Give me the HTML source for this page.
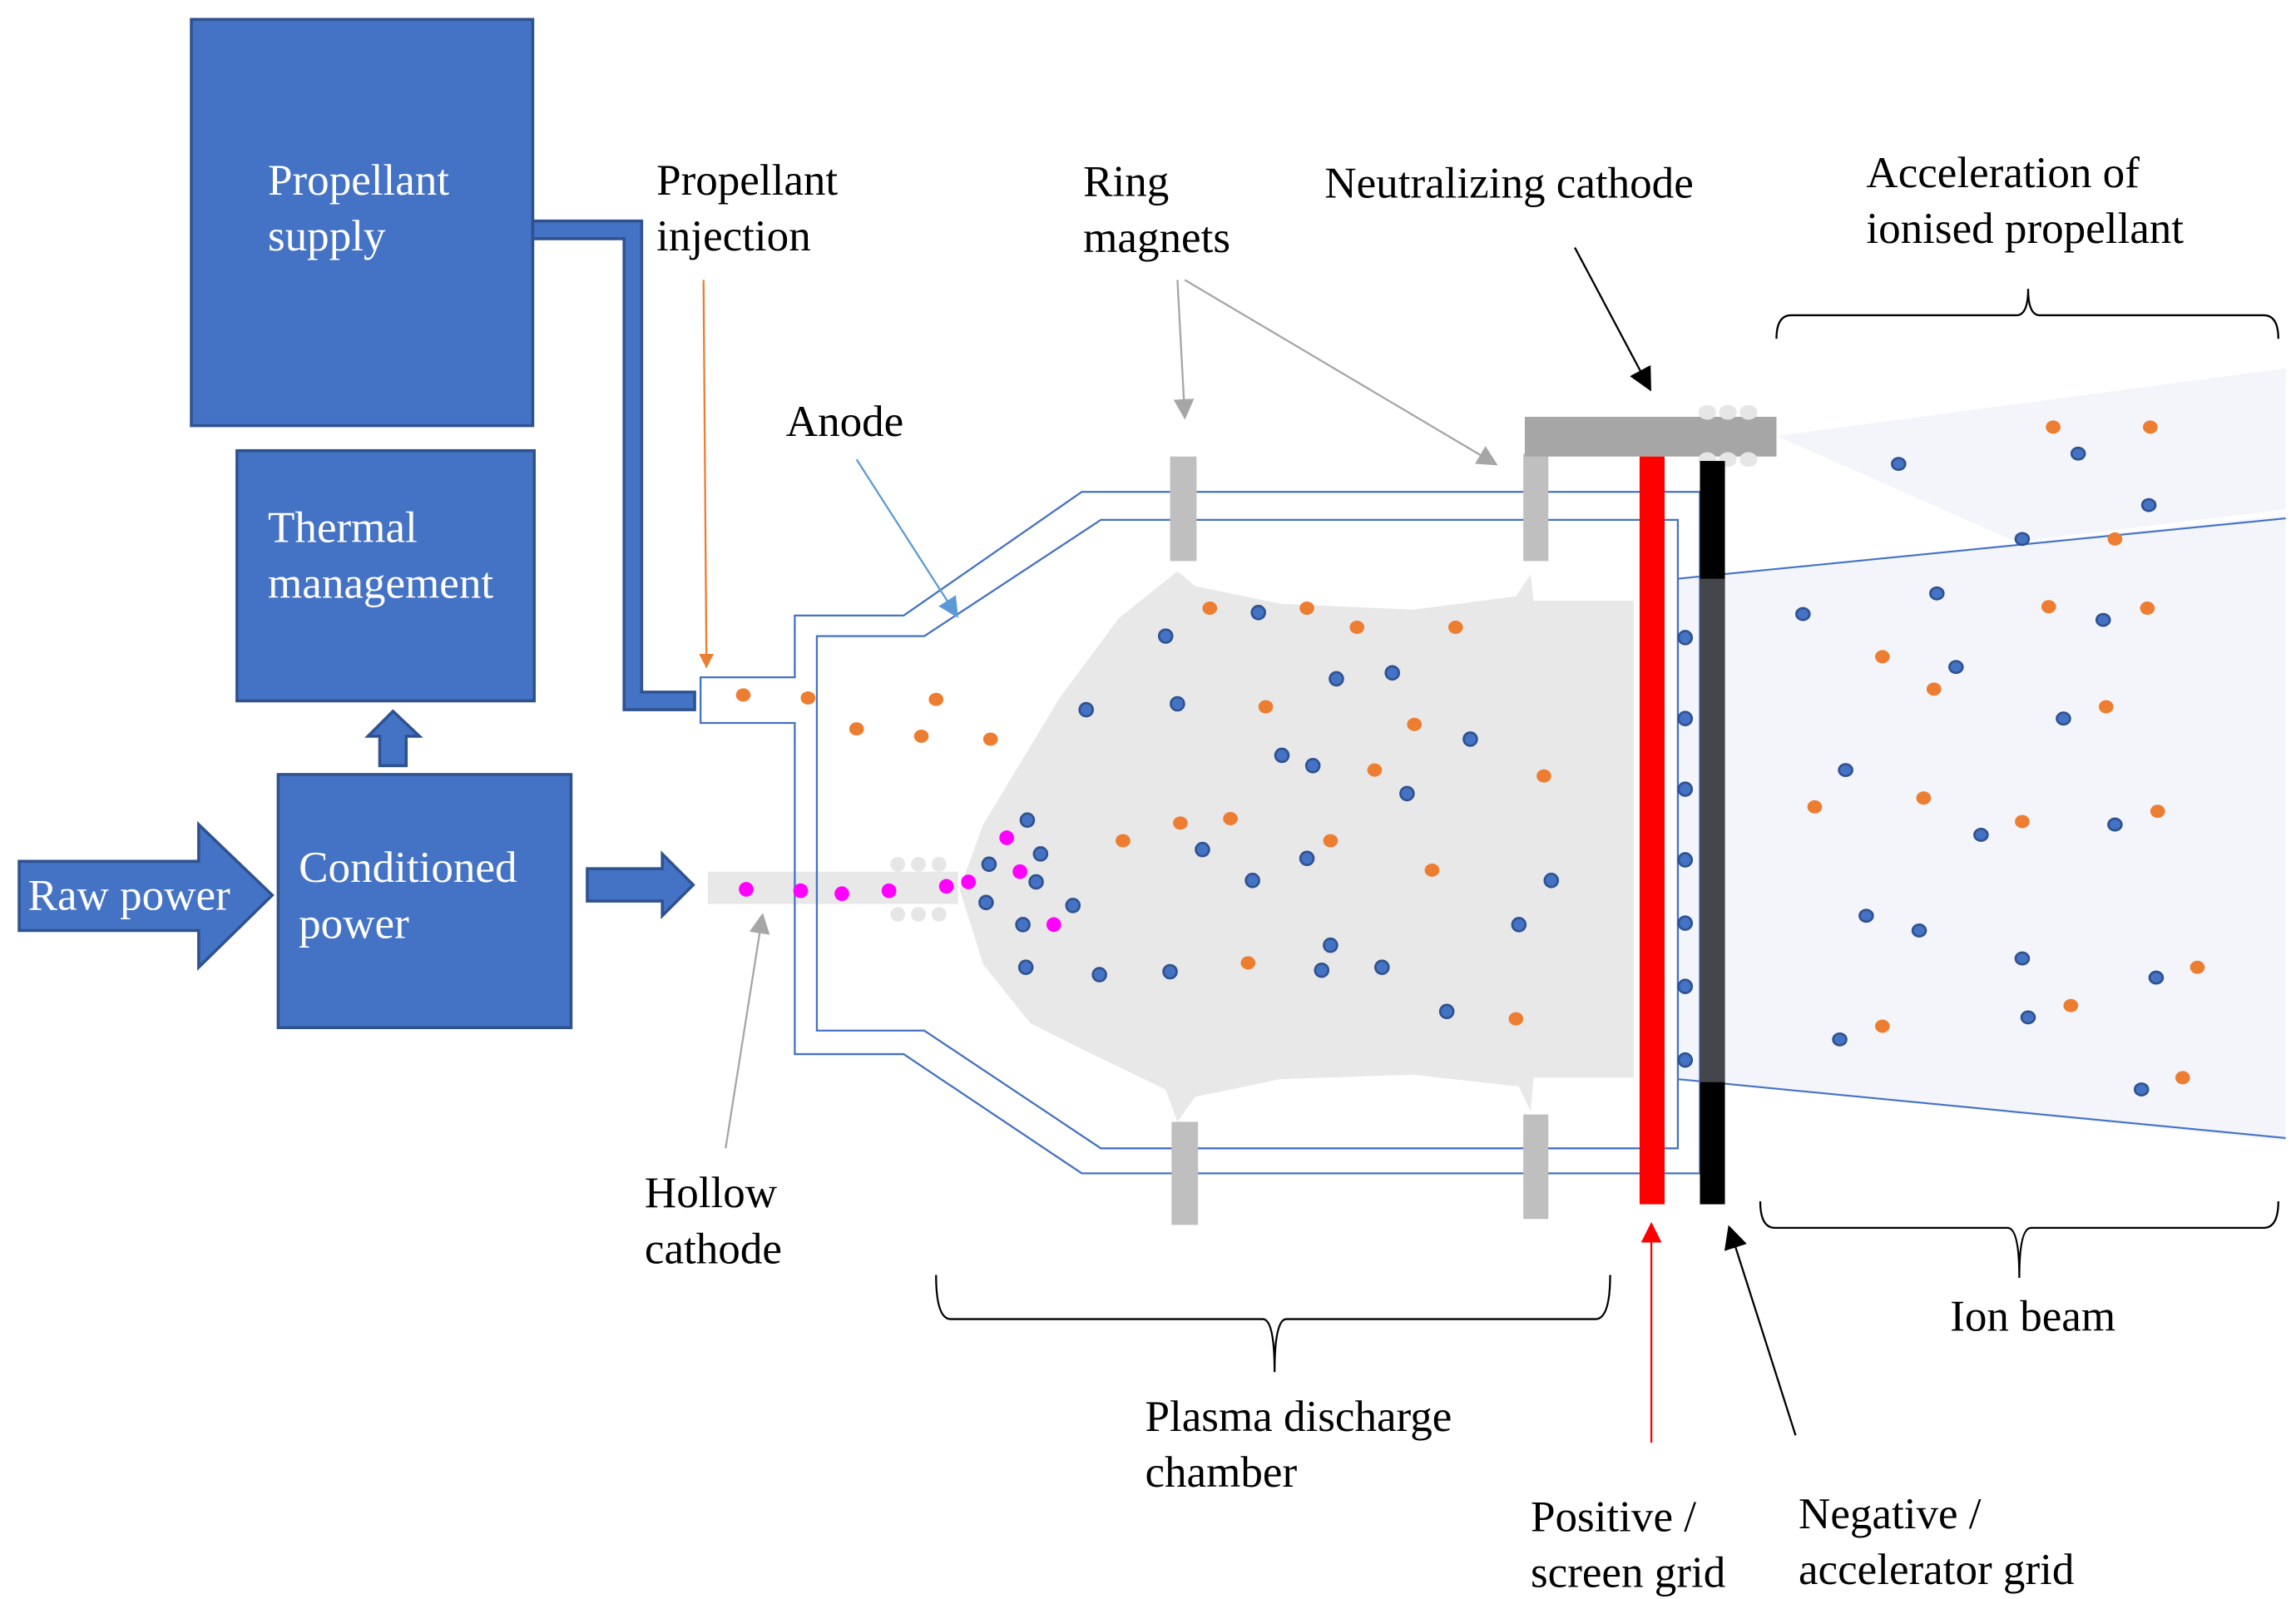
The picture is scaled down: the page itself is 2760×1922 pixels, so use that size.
<!DOCTYPE html>
<html><head><meta charset="utf-8"><style>
html,body{margin:0;padding:0;background:#fff}
svg{display:block}
text{font-family:"Liberation Serif",serif;font-size:30px}
.w{fill:#fff}
</style></head><body>
<svg width="2760" height="1922" viewBox="0 0 1560 1086" xmlns="http://www.w3.org/2000/svg">
<defs>
<marker id="ao" markerWidth="10" markerHeight="10" refX="8" refY="5" orient="auto" markerUnits="userSpaceOnUse"><path d="M0,0 L10,5 L0,10z" fill="#ED7D31"/></marker>
<marker id="ab" markerWidth="14" markerHeight="14" refX="12" refY="7" orient="auto" markerUnits="userSpaceOnUse"><path d="M0,0 L14,7 L0,14z" fill="#5B9BD5"/></marker>
<marker id="ag" markerWidth="14" markerHeight="14" refX="12" refY="7" orient="auto" markerUnits="userSpaceOnUse"><path d="M0,0 L14,7 L0,14z" fill="#A6A6A6"/></marker>
<marker id="ak" markerWidth="16" markerHeight="16" refX="14" refY="8" orient="auto" markerUnits="userSpaceOnUse"><path d="M0,0 L16,8 L0,16z" fill="#000"/></marker>
<marker id="ar" markerWidth="14" markerHeight="14" refX="12" refY="7" orient="auto" markerUnits="userSpaceOnUse"><path d="M0,0 L14,7 L0,14z" fill="#f00"/></marker>
</defs>

<!-- blocks -->
<g fill="#4472C4" stroke="#2F528F" stroke-width="2">
<rect x="130" y="13" width="232" height="276"/>
<rect x="161" y="306" width="202" height="170"/>
<rect x="189" y="526" width="199" height="172"/>
<path d="M13,585 L135,585 L135,560 L185,608 L135,657 L135,632 L13,632z"/>
<path d="M258,520 L258,500 L250,500 L267,483 L285,500 L276,500 L276,520z"/>
<path d="M399,590 L450,590 L450,580 L471,601 L450,622 L450,612 L399,612z"/>
<path d="M362,150 L436,150 L436,470 L472,470 L472,482 L424,482 L424,162 L362,162z"/>
</g>
<text class="w" x="182" y="132">Propellant</text>
<text class="w" x="182" y="170">supply</text>
<text class="w" x="182" y="368">Thermal</text>
<text class="w" x="182" y="406">management</text>
<text class="w" x="203" y="599">Conditioned</text>
<text class="w" x="203" y="637">power</text>
<text class="w" x="19" y="618">Raw power</text>

<!-- beam -->
<path d="M1207,296 L1553,250 L1553,346 L1370,368z" fill="#F3F5FB"/>
<path d="M1140,393 L1553,350 L1553,775 L1140,733z" fill="#F3F5FB"/>
<path d="M1140,393 L1553,352 M1140,733 L1553,773" stroke="#4472C4" stroke-width="1.2" fill="none"/>

<!-- plasma -->
<path d="M800,388 L812,398 L870,410 L960,414 L1030,405 L1040,390 L1042,408 L1110,408 L1110,732 L1042,732 L1040,755 L1032,738 L960,730 L870,733 L812,745 L800,762 L792,740 L740,715 L700,695 L668,655 L652,604 L668,560 L720,474 L760,420z" fill="#E8E8E8"/>
<rect x="481" y="592" width="170" height="22" fill="#E8E8E8"/>

<!-- chamber outline -->
<g fill="none" stroke="#4472C4" stroke-width="1.3">
<path d="M540,418 L540,460 L476,460 L476,491 L540,491 L540,716 L614,716 L735,797 L1155,797 L1155,334 L735,334 L614,418z"/>
<path d="M555,432 L555,700 L628,700 L748,780 L1140,780 L1140,353 L748,353 L628,432z"/>
</g>

<!-- magnets -->
<g fill="#BFBFBF">
<rect x="795" y="310" width="18" height="71"/>
<rect x="1035" y="308" width="17" height="73"/>
<rect x="796" y="762" width="18" height="70"/>
<rect x="1035" y="757" width="17" height="71"/>
</g>
<rect x="1036" y="283" width="171" height="27" fill="#A6A6A6"/>
<g fill="#E7E6E6">
<ellipse cx="1160" cy="280" rx="6" ry="5"/><ellipse cx="1174" cy="280" rx="6" ry="5"/><ellipse cx="1188" cy="280" rx="6" ry="5"/>
<ellipse cx="1160" cy="312" rx="6" ry="5"/><ellipse cx="1174" cy="312" rx="6" ry="5"/><ellipse cx="1188" cy="312" rx="6" ry="5"/>
<circle cx="610" cy="587" r="5"/><circle cx="624" cy="587" r="5"/><circle cx="638" cy="587" r="5"/>
<circle cx="610" cy="621" r="5"/><circle cx="624" cy="621" r="5"/><circle cx="638" cy="621" r="5"/>
</g>

<!-- grids -->
<rect x="1114" y="310" width="17" height="508" fill="#f00"/>
<rect x="1155" y="313" width="17" height="505" fill="#000"/>
<rect x="1155" y="393" width="17" height="342" fill="#45464B"/>

<!-- dots -->
<g fill="#ED7D31">
<ellipse cx="505" cy="472" rx="5" ry="4.5"/><ellipse cx="549" cy="474" rx="5" ry="4.5"/><ellipse cx="582" cy="495" rx="5" ry="4.5"/><ellipse cx="626" cy="500" rx="5" ry="4.5"/><ellipse cx="636" cy="475" rx="5" ry="4.5"/><ellipse cx="673" cy="502" rx="5" ry="4.5"/>
<ellipse cx="822" cy="413" rx="5" ry="4.5"/><ellipse cx="888" cy="413" rx="5" ry="4.5"/><ellipse cx="922" cy="426" rx="5" ry="4.5"/><ellipse cx="989" cy="426" rx="5" ry="4.5"/><ellipse cx="860" cy="480" rx="5" ry="4.5"/><ellipse cx="961" cy="492" rx="5" ry="4.5"/><ellipse cx="934" cy="523" rx="5" ry="4.5"/><ellipse cx="1049" cy="527" rx="5" ry="4.5"/><ellipse cx="763" cy="571" rx="5" ry="4.5"/><ellipse cx="802" cy="559" rx="5" ry="4.5"/><ellipse cx="836" cy="556" rx="5" ry="4.5"/><ellipse cx="904" cy="571" rx="5" ry="4.5"/><ellipse cx="973" cy="591" rx="5" ry="4.5"/><ellipse cx="848" cy="654" rx="5" ry="4.5"/><ellipse cx="1030" cy="692" rx="5" ry="4.5"/>
<ellipse cx="1395" cy="290" rx="5" ry="4.5"/><ellipse cx="1461" cy="290" rx="5" ry="4.5"/><ellipse cx="1437" cy="366" rx="5" ry="4.5"/><ellipse cx="1279" cy="446" rx="5" ry="4.5"/><ellipse cx="1392" cy="412" rx="5" ry="4.5"/><ellipse cx="1459" cy="413" rx="5" ry="4.5"/><ellipse cx="1314" cy="468" rx="5" ry="4.5"/><ellipse cx="1431" cy="480" rx="5" ry="4.5"/><ellipse cx="1233" cy="548" rx="5" ry="4.5"/><ellipse cx="1307" cy="542" rx="5" ry="4.5"/><ellipse cx="1374" cy="558" rx="5" ry="4.5"/><ellipse cx="1466" cy="551" rx="5" ry="4.5"/><ellipse cx="1493" cy="657" rx="5" ry="4.5"/><ellipse cx="1407" cy="683" rx="5" ry="4.5"/><ellipse cx="1279" cy="697" rx="5" ry="4.5"/><ellipse cx="1483" cy="732" rx="5" ry="4.5"/>
</g>
<g fill="#4472C4" stroke="#2F528F" stroke-width="1.5">
<ellipse cx="792" cy="432" rx="4.5" ry="4.5"/><ellipse cx="855" cy="416" rx="4.5" ry="4.5"/><ellipse cx="908" cy="461" rx="4.5" ry="4.5"/><ellipse cx="946" cy="457" rx="4.5" ry="4.5"/><ellipse cx="738" cy="482" rx="4.5" ry="4.5"/><ellipse cx="800" cy="478" rx="4.5" ry="4.5"/><ellipse cx="871" cy="513" rx="4.5" ry="4.5"/><ellipse cx="892" cy="520" rx="4.5" ry="4.5"/><ellipse cx="999" cy="502" rx="4.5" ry="4.5"/><ellipse cx="956" cy="539" rx="4.5" ry="4.5"/><ellipse cx="698" cy="557" rx="4.5" ry="4.5"/><ellipse cx="707" cy="580" rx="4.5" ry="4.5"/><ellipse cx="672" cy="587" rx="4.5" ry="4.5"/><ellipse cx="704" cy="599" rx="4.5" ry="4.5"/><ellipse cx="670" cy="613" rx="4.5" ry="4.5"/><ellipse cx="729" cy="615" rx="4.5" ry="4.5"/><ellipse cx="695" cy="628" rx="4.5" ry="4.5"/><ellipse cx="817" cy="577" rx="4.5" ry="4.5"/><ellipse cx="851" cy="598" rx="4.5" ry="4.5"/><ellipse cx="888" cy="583" rx="4.5" ry="4.5"/><ellipse cx="1054" cy="598" rx="4.5" ry="4.5"/><ellipse cx="904" cy="642" rx="4.5" ry="4.5"/><ellipse cx="1032" cy="628" rx="4.5" ry="4.5"/><ellipse cx="697" cy="657" rx="4.5" ry="4.5"/><ellipse cx="747" cy="662" rx="4.5" ry="4.5"/><ellipse cx="795" cy="660" rx="4.5" ry="4.5"/><ellipse cx="898" cy="659" rx="4.5" ry="4.5"/><ellipse cx="939" cy="657" rx="4.5" ry="4.5"/><ellipse cx="983" cy="687" rx="4.5" ry="4.5"/>
<ellipse cx="1145" cy="433" rx="4.5" ry="4.5"/><ellipse cx="1145" cy="488" rx="4.5" ry="4.5"/><ellipse cx="1145" cy="536" rx="4.5" ry="4.5"/><ellipse cx="1145" cy="584" rx="4.5" ry="4.5"/><ellipse cx="1145" cy="627" rx="4.5" ry="4.5"/><ellipse cx="1145" cy="670" rx="4.5" ry="4.5"/><ellipse cx="1145" cy="720" rx="4.5" ry="4.5"/>
<ellipse cx="1290" cy="315" rx="4.5" ry="4"/><ellipse cx="1412" cy="308" rx="4.5" ry="4"/><ellipse cx="1460" cy="343" rx="4.5" ry="4"/><ellipse cx="1374" cy="366" rx="4.5" ry="4"/><ellipse cx="1316" cy="403" rx="4.5" ry="4"/><ellipse cx="1225" cy="417" rx="4.5" ry="4"/><ellipse cx="1429" cy="421" rx="4.5" ry="4"/><ellipse cx="1329" cy="453" rx="4.5" ry="4"/><ellipse cx="1402" cy="488" rx="4.5" ry="4"/><ellipse cx="1254" cy="523" rx="4.5" ry="4"/><ellipse cx="1346" cy="567" rx="4.5" ry="4"/><ellipse cx="1437" cy="560" rx="4.5" ry="4"/><ellipse cx="1268" cy="622" rx="4.5" ry="4"/><ellipse cx="1304" cy="632" rx="4.5" ry="4"/><ellipse cx="1374" cy="651" rx="4.5" ry="4"/><ellipse cx="1465" cy="664" rx="4.5" ry="4"/><ellipse cx="1378" cy="691" rx="4.5" ry="4"/><ellipse cx="1250" cy="706" rx="4.5" ry="4"/><ellipse cx="1455" cy="740" rx="4.5" ry="4"/>
</g>
<g fill="#FF00FF">
<circle cx="507" cy="604" r="5"/><circle cx="544" cy="605" r="5"/><circle cx="572" cy="607" r="5"/><circle cx="604" cy="605" r="5"/><circle cx="643" cy="602" r="5"/><circle cx="658" cy="599" r="5"/><circle cx="684" cy="569" r="5"/><circle cx="693" cy="592" r="5"/><circle cx="716" cy="628" r="5"/>
</g>

<!-- arrows -->
<line x1="478" y1="190" x2="480" y2="452" stroke="#ED7D31" stroke-width="1.3" marker-end="url(#ao)"/>
<line x1="582" y1="312" x2="650" y2="418" stroke="#5B9BD5" stroke-width="1.3" marker-end="url(#ab)"/>
<line x1="800" y1="190" x2="805" y2="283" stroke="#A6A6A6" stroke-width="1.3" marker-end="url(#ag)"/>
<line x1="805" y1="190" x2="1016" y2="315" stroke="#A6A6A6" stroke-width="1.3" marker-end="url(#ag)"/>
<line x1="1070" y1="168" x2="1121" y2="264" stroke="#000" stroke-width="1.3" marker-end="url(#ak)"/>
<line x1="493" y1="780" x2="518" y2="622" stroke="#A6A6A6" stroke-width="1.3" marker-end="url(#ag)"/>
<line x1="1122" y1="980" x2="1122" y2="832" stroke="#f00" stroke-width="1.3" marker-end="url(#ar)"/>
<line x1="1220" y1="975" x2="1175" y2="834" stroke="#000" stroke-width="1.3" marker-end="url(#ak)"/>

<!-- braces -->
<g fill="none" stroke="#000" stroke-width="1.3">
<path d="M1207,230 Q1207,214 1217,214 L1370,214 Q1378,214 1378,196 Q1378,214 1386,214 L1538,214 Q1548,214 1548,230"/>
<path d="M1196,816 Q1196,834 1206,834 L1364,834 Q1372,834 1372,868 Q1372,834 1380,834 L1538,834 Q1548,834 1548,816"/>
<path d="M636,866 Q636,896 646,896 L858,896 Q866,896 866,932 Q866,896 874,896 L1084,896 Q1094,896 1094,866"/>
</g>

<!-- labels -->
<text x="446" y="132">Propellant</text>
<text x="446" y="170">injection</text>
<text x="736" y="133">Ring</text>
<text x="736" y="171">magnets</text>
<text x="900" y="134">Neutralizing cathode</text>
<text x="1268" y="127">Acceleration of</text>
<text x="1268" y="165">ionised propellant</text>
<text x="534" y="296">Anode</text>
<text x="438" y="820">Hollow</text>
<text x="438" y="858">cathode</text>
<text x="778" y="972">Plasma discharge</text>
<text x="778" y="1010">chamber</text>
<text x="1040" y="1040">Positive /</text>
<text x="1040" y="1078">screen grid</text>
<text x="1222" y="1038">Negative /</text>
<text x="1222" y="1076">accelerator grid</text>
<text x="1325" y="904">Ion beam</text>
</svg>
</body></html>
